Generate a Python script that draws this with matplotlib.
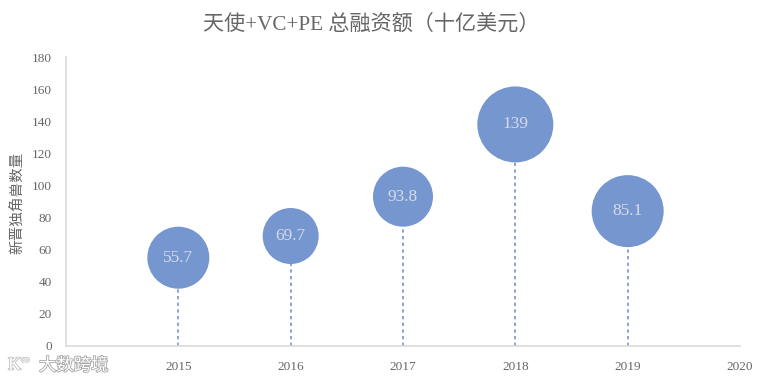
import matplotlib.pyplot as plt
import matplotlib.patheffects as pe

plt.rcParams['font.family'] = ['Liberation Serif', 'Noto Sans CJK SC']

# data
years = [2015, 2016, 2017, 2018, 2019]
new_unicorns = [55, 68.5, 93, 138, 84]
funding = [55.7, 69.7, 93.8, 139, 85.1]
bubble_radius = [31, 28, 30, 38, 36]  # pixels
y_ticks = [0, 20, 40, 60, 80, 100, 120, 140, 160, 180]
x_ticks = [2015, 2016, 2017, 2018, 2019, 2020]

W, H = 771, 381
fig = plt.figure(figsize=(W / 100, H / 100), dpi=100)
# axes box in pixels: left 66, right 740, top 57, bottom 346
ax = fig.add_axes([66 / W, 1 - 346 / H, (740 - 66) / W, (346 - 57) / H])

blue = '#7596CF'
ax.vlines(years, 0, new_unicorns, colors='#7596CF', linestyles=(0, (2, 2)), linewidth=1.2, zorder=1)
sizes = [(2 * r * 0.72) ** 2 for r in bubble_radius]
ax.scatter(years, new_unicorns, s=sizes, color=blue, linewidths=0, zorder=2, clip_on=False)

for x, y, v in zip(years, new_unicorns, funding):
    ax.text(x, y, str(v), ha='center', va='center', fontsize=12.5, color='#D5DBE8', zorder=3)

ax.set_xlim(2014, 2020)
ax.set_ylim(0, 180)
ax.set_xticks(x_ticks)
ax.set_yticks(y_ticks)
ax.tick_params(length=0, labelsize=9.5, labelcolor='#666666')
ax.tick_params(axis='x', pad=11)
ax.tick_params(axis='y', pad=10)

for side in ['top', 'right']:
    ax.spines[side].set_visible(False)
for side in ['left', 'bottom']:
    ax.spines[side].set_color('#D9D9D9')
    ax.spines[side].set_linewidth(1.2)

fig.text(371 / W, 1 - 25 / H, '天使+VC+PE 总融资额（十亿美元）', ha='center', va='center',
         fontsize=15.2, color='#666666')
fig.text(17 / W, 1 - 203 / H, '新晋独角兽数量', rotation=90, ha='center', va='center',
         fontsize=10.5, color='#666666')

# watermark
fig.text(39 / W, 1 - 366 / H, '大数跨境', ha='left', va='center', fontsize=12.5, color='white',
         path_effects=[pe.withStroke(linewidth=1.2, foreground='#A6A6A6')])
fig.text(8 / W, 1 - 365 / H, 'K', ha='left', va='center', fontsize=13, color='white',
         path_effects=[pe.withStroke(linewidth=1.2, foreground='#BFBFBF')])
fig.text(20 / W, 1 - 360 / H, '∞', ha='left', va='center', fontsize=9, color='white',
         family=['DejaVu Sans'],
         path_effects=[pe.withStroke(linewidth=1, foreground='#BFBFBF')])

fig.savefig('out.png', dpi=100)
